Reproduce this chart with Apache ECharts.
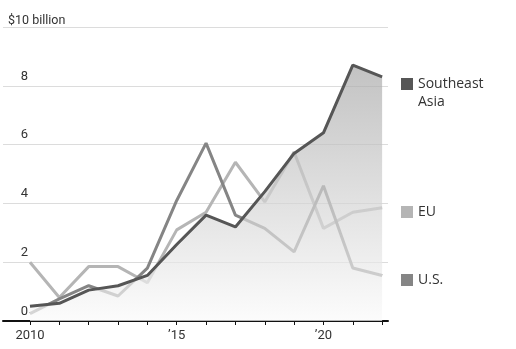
<!DOCTYPE html>
<html>
<head>
<meta charset="utf-8">
<script src="https://cdn.jsdelivr.net/npm/echarts@6/dist/echarts.min.js"></script>
<style>
  html, body { margin: 0; padding: 0; background: #fff; }
  #chart { width: 516px; height: 349px; }
</style>
</head>
<body>
<div id="chart"></div>
<script>
const years = [2010, 2011, 2012, 2013, 2014, 2015, 2016, 2017, 2018, 2019, 2020, 2021, 2022];
const seAsia = [0.5, 0.6, 1.05, 1.2, 1.55, 2.6, 3.6, 3.2, 4.4, 5.7, 6.4, 8.7, 8.3];
const eu = [2.0, 0.8, 1.85, 1.85, 1.3, 3.1, 3.7, 5.4, 4.05, 5.75, 3.15, 3.7, 3.85];
const us = [0.25, 0.75, 1.2, 0.85, 1.8, 4.1, 6.05, 3.6, 3.15, 2.35, 4.6, 1.8, 1.55];
const labelYears = [2010, 2015, 2020];
const yearLabels = { 2010: '2010', 2015: '\u201915', 2020: '\u201920' };

const pairs = arr => arr.map((v, i) => [years[i], v]);

var dom = document.getElementById('chart');
var myChart = echarts.init(dom, null, { renderer: 'canvas' });

const font = 'Roboto';
const legendText = { fontFamily: 'Open Sans', fontSize: 14, color: '#333', lineHeight: 18 };

const option = {
    animation: false,
    title: {
        text: '$10 billion',
        left: 3,
        top: 9,
        textStyle: { fontFamily: font, fontSize: 12.5, fontWeight: 'normal', color: '#333' }
    },
    grid: { left: 3, right: 128, top: 27, bottom: 28 },
    xAxis: {
        type: 'value',
        min: 2009.08,
        max: 2022.2,
        axisLine: { lineStyle: { color: '#111', width: 2 } },
        axisTick: { length: 4, customValues: years, lineStyle: { color: '#111' } },
        axisLabel: {
            margin: 8,
            customValues: labelYears,
            fontFamily: font,
            fontSize: 13,
            color: '#333',
            formatter: v => yearLabels[v] || ''
        },
        splitLine: { show: false }
    },
    yAxis: {
        type: 'value',
        min: 0,
        max: 10,
        interval: 2,
        axisLine: { show: false },
        axisTick: { show: false },
        axisLabel: {
            inside: true,
            margin: 25,
            align: 'right',
            verticalAlign: 'bottom',
            padding: [0, 0, 3, 0],
            fontFamily: font,
            fontSize: 13,
            color: '#333',
            formatter: v => (v === 10 ? '' : String(v))
        },
        splitLine: { lineStyle: { color: '#dcdcdc', width: 1 } }
    },
    legend: [
        {
            data: ['Southeast Asia'],
            left: 401, top: 57, padding: 0,
            icon: 'rect', itemWidth: 12, itemHeight: 12,
            // blank first line keeps "Southeast" level with the swatch
            formatter: () => '\nSoutheast\nAsia',
            textStyle: legendText
        },
        {
            data: ['EU'],
            left: 401, top: 203, padding: 0,
            icon: 'rect', itemWidth: 12, itemHeight: 12,
            textStyle: legendText
        },
        {
            data: ['U.S.'],
            left: 401, top: 271, padding: 0,
            icon: 'rect', itemWidth: 12, itemHeight: 12,
            textStyle: legendText
        }
    ],
    series: [
        {
            name: 'EU',
            type: 'line',
            data: pairs(eu),
            symbol: 'none',
            color: '#b5b5b5',
            lineStyle: { width: 3, color: '#b5b5b5' },
            z: 3
        },
        {
            name: 'U.S.',
            type: 'line',
            data: pairs(us),
            symbol: 'none',
            color: '#858585',
            lineStyle: { width: 3, color: '#858585' },
            z: 4
        },
        {
            name: 'Southeast Asia',
            type: 'line',
            data: pairs(seAsia),
            symbol: 'none',
            color: '#565656',
            lineStyle: { width: 3, color: '#565656' },
            areaStyle: {
                color: new echarts.graphic.LinearGradient(0, 0, 0, 1, [
                    { offset: 0, color: '#a8a8a8' },
                    { offset: 1, color: '#fafafa' }
                ])
            },
            z: 5
        }
    ]
};

myChart.setOption(option);
window.addEventListener('resize', myChart.resize);
</script>
</body>
</html>
